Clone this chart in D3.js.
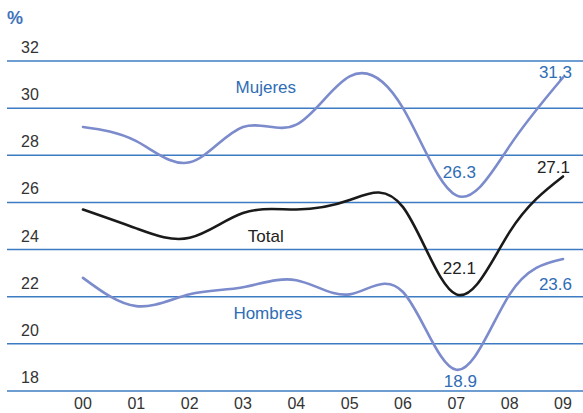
<!DOCTYPE html>
<html><head><meta charset="utf-8">
<script src="https://cdn.jsdelivr.net/npm/d3@7"></script>
<style>
html,body{margin:0;padding:0;background:#fff;}
svg{display:block;font-family:"Liberation Sans",Arial,sans-serif;}
</style></head>
<body><svg id="c" width="583" height="413"></svg>
<script>
const years = ["00","01","02","03","04","05","06","07","08","09"];
const yTicks = [18,20,22,24,26,28,30,32];
const mujeres = [29.2, 28.6, 27.7, 29.2, 29.3, 31.35, 30.0, 26.3, 28.4, 31.3];
const total   = [25.7, 24.9, 24.5, 25.55, 25.7, 26.1, 25.8, 22.1, 24.75, 27.1];
const hombres = [22.8, 21.6, 22.1, 22.4, 22.7, 22.1, 22.2, 18.9, 22.1, 23.6];
const mujeresLabel = "31,3", mujeresMin = "26.3";
const totalLabel = "27.1", totalMin = "22.1";
const hombresLabel = "23.6", hombresMin = "18.9";

const svg = d3.select("#c");
const x = d3.scaleLinear().domain([0, 9]).range([83, 563]);
const y = d3.scaleLinear().domain([18, 32]).range([391, 61]);

const gridColor = "#3d7cc2", blueLine = "#7b8bcc", blueText = "#2f6db5";

svg.append("g").selectAll("line").data(yTicks).join("line")
  .attr("x1", 7).attr("x2", 583)
  .attr("y1", d => y(d)).attr("y2", d => y(d))
  .attr("stroke", gridColor).attr("stroke-width", 1.5);

svg.append("g").selectAll("text").data(yTicks).join("text")
  .attr("x", 21).attr("y", d => y(d) - 8)
  .attr("font-size", 16).attr("fill", "#333")
  .text(d => d);

svg.append("g").selectAll("text").data(years).join("text")
  .attr("x", (d, i) => x(i)).attr("y", 409)
  .attr("text-anchor", "middle").attr("font-size", 16).attr("fill", "#333")
  .text(d => d);

svg.append("text").attr("x", 7).attr("y", 24)
  .attr("font-size", 18).attr("font-weight", "bold").attr("fill", "#3f73bd").text("%");

const line = d3.line().x((d, i) => x(i)).y(d => y(d)).curve(d3.curveNatural);

[[mujeres, blueLine], [hombres, blueLine], [total, "#1a1a1a"]].forEach(([s, c]) => {
  svg.append("path").attr("d", line(s)).attr("fill", "none")
    .attr("stroke", c).attr("stroke-width", 2.6).attr("stroke-linecap", "round");
});

function label(t, xv, yv, anchor, col) {
  svg.append("text").attr("x", xv).attr("y", yv).attr("text-anchor", anchor)
    .attr("font-size", 17).attr("fill", col).text(t);
}
label("Mujeres", x(2.86), y(30.0) - 15, "start", blueText);
label("Total", x(3.09), y(24.0) - 8, "start", "#222");
label("Hombres", x(2.82), y(22.0) + 22, "start", blueText);
label(mujeresLabel, x(9) + 9, y(31.3), "end", blueText);
label(mujeresMin, x(7) + 3, y(26.3) - 17, "middle", blueText);
label(totalLabel, x(9) + 7, y(27.1) - 3.5, "end", "#222");
label(totalMin, x(7) + 3, y(22.1) - 20, "middle", "#222");
label(hombresLabel, x(9) + 9, y(23.6) + 31, "end", blueText);
label(hombresMin, x(7) + 4, y(18.9) + 17, "middle", blueText);
</script></body></html>
